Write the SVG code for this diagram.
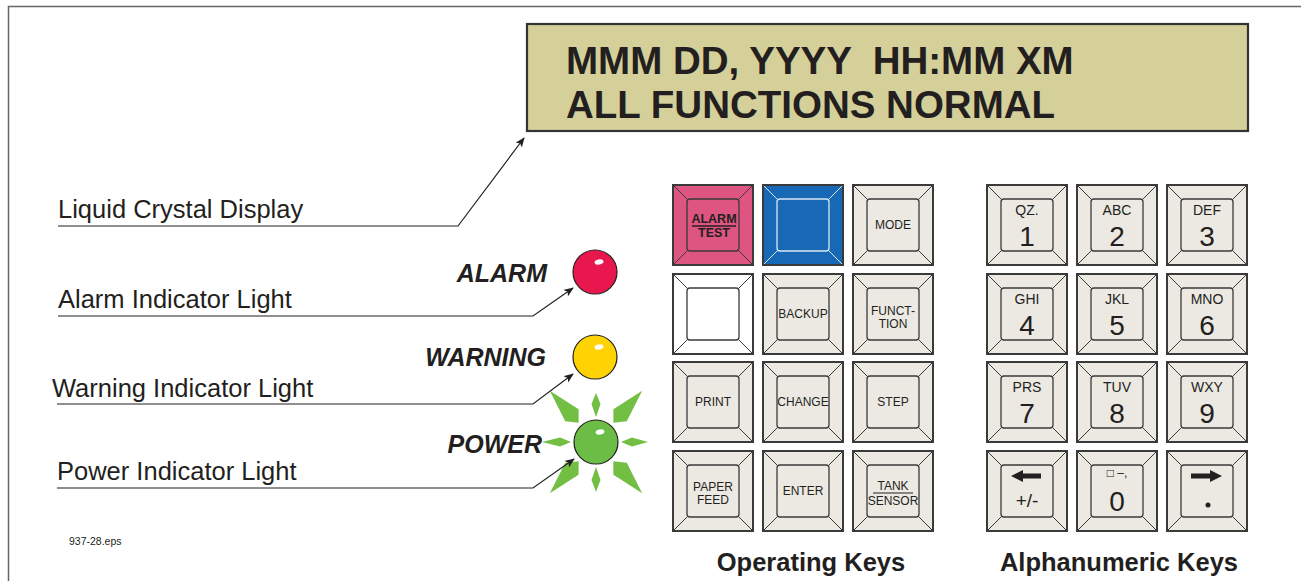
<svg xmlns="http://www.w3.org/2000/svg" xmlns:xlink="http://www.w3.org/1999/xlink" width="1301" height="581" viewBox="0 0 1301 581">
<style>
.lbl{font-family:"Liberation Sans",Arial,sans-serif;font-size:25.5px;fill:#231f20}
.bi{font-family:"Liberation Sans",Arial,sans-serif;font-size:25px;font-weight:bold;font-style:italic;fill:#231f20;text-anchor:end}
.lcdt{font-family:"Liberation Sans",Arial,sans-serif;font-size:38.5px;font-weight:bold;fill:#231f20}
.kt{font-family:"Liberation Sans",Arial,sans-serif;font-size:12px;fill:#231f20;text-anchor:middle}
.kb{font-family:"Liberation Sans",Arial,sans-serif;font-size:12.5px;font-weight:bold;fill:#231f20;text-anchor:middle}
.ks{font-family:"Liberation Sans",Arial,sans-serif;font-size:14px;fill:#231f20;text-anchor:middle}
.kd{font-family:"Liberation Sans",Arial,sans-serif;font-size:28px;fill:#231f20;text-anchor:middle}
.ttl{font-family:"Liberation Sans",Arial,sans-serif;font-size:25.5px;font-weight:bold;fill:#231f20;text-anchor:middle}
.conn{fill:none;stroke:#231f20;stroke-width:1.2}
.ray{fill:#72bf44}
.hl{fill:#ffffff}
</style>
<defs>
<marker id="ah" markerWidth="10" markerHeight="8" refX="9" refY="4" orient="auto" markerUnits="userSpaceOnUse">
<path d="M0,0 L10,4 L0,8 L2.5,4 Z" fill="#231f20"/>
</marker>
<g id="kf">
<rect x="0" y="0" width="80" height="80" stroke-width="2"/>
<rect x="14" y="14" width="52" height="52" rx="3" stroke-width="1.3"/>
<path d="M0,0 L14.5,14.5 M80,0 L65.5,14.5 M0,80 L14.5,65.5 M80,80 L65.5,65.5" stroke-width="1"/>
</g>
</defs>

<g id="frame" fill="none" stroke="#666" stroke-width="1.5">
<path d="M8.5,581 L8.5,6.5 L1301,6.5"/>
</g>

<g id="lcd">
<rect x="527" y="24" width="721" height="107" fill="#d5cf99" stroke="#333" stroke-width="2.2"/>
<text class="lcdt" x="566" y="74" xml:space="preserve">MMM DD, YYYY  HH:MM XM</text>
<text class="lcdt" x="566" y="118">ALL FUNCTIONS NORMAL</text>
</g>

<g id="label-lcd"><text class="lbl" x="58" y="218">Liquid Crystal Display</text></g>
<g id="label-alarm"><text class="lbl" x="58" y="308">Alarm Indicator Light</text></g>
<g id="label-warning"><text class="lbl" x="52" y="397">Warning Indicator Light</text></g>
<g id="label-power"><text class="lbl" x="57" y="480">Power Indicator Light</text></g>

<g id="light-alarm">
<text class="bi" x="547" y="282">ALARM</text>
<circle cx="595" cy="272" r="22" fill="#e8184f" stroke="#231f20" stroke-width="1.2"/>
<ellipse cx="599" cy="262" rx="4.5" ry="2.6" class="hl" transform="rotate(-10 599 262)"/>
</g>
<g id="light-warning">
<text class="bi" x="546" y="366">WARNING</text>
<circle cx="595" cy="357" r="22" fill="#ffd204" stroke="#231f20" stroke-width="1.2"/>
<ellipse cx="599" cy="347" rx="4.5" ry="2.6" class="hl" transform="rotate(-10 599 347)"/>
</g>
<g id="light-power">
<g transform="translate(596,442)">
<path class="ray" d="M0,-25 L4.5,-38 L0,-49 L-4.5,-38 Z"/>
<path class="ray" d="M0,25 L4.5,38 L0,50 L-4.5,38 Z"/>
<path class="ray" d="M25,0 L36,-4.5 L52,0 L36,4.5 Z"/>
<path class="ray" d="M-25,0 L-36,-4.5 L-54,0 L-36,4.5 Z"/>
<path class="ray" d="M26,0 L36,-9 L69,0 L36,9 Z" transform="rotate(-48)"/>
<path class="ray" d="M26,0 L36,-9 L69,0 L36,9 Z" transform="rotate(-132)"/>
<path class="ray" d="M26,0 L36,-9 L69,0 L36,9 Z" transform="rotate(48)"/>
<path class="ray" d="M26,0 L36,-9 L69,0 L36,9 Z" transform="rotate(132)"/>
</g>
<text class="bi" x="542" y="453">POWER</text>
<circle cx="596" cy="442" r="22" fill="#6cbd45" stroke="#231f20" stroke-width="1.2"/>
<ellipse cx="600" cy="432" rx="4.5" ry="2.6" class="hl" transform="rotate(-10 600 432)"/>
</g>

<g id="connectors">
<polyline class="conn" points="58,226 458,226 524,138" marker-end="url(#ah)"/>
<polyline class="conn" points="58,316 533,316 573,288" marker-end="url(#ah)"/>
<polyline class="conn" points="57,404 533,404 573,374" marker-end="url(#ah)"/>
<polyline class="conn" points="57,488 533,488 574,459" marker-end="url(#ah)"/>
</g>

<g id="operating-keys">
<g id="key-alarm-test">
<use xlink:href="#kf" x="673" y="185" fill="#df5581" stroke="#3a3a3a"/>
<text class="kb" x="714" y="223">ALARM</text>
<line x1="692" y1="226" x2="736" y2="226" stroke="#231f20" stroke-width="1.3"/>
<text class="kb" x="714" y="237">TEST</text>
</g>
<g id="key-blue">
<rect x="763" y="185" width="80" height="80" fill="#1769b5" stroke="#3a3a3a" stroke-width="2"/>
<rect x="777" y="199" width="52" height="52" rx="3" fill="none" stroke="#d8e6f4" stroke-width="1.3"/>
<path d="M764,186 L777.5,199.5 M842,186 L828.5,199.5 M764,264 L777.5,250.5 M842,264 L828.5,250.5" stroke="#d8e6f4" stroke-width="1"/>
</g>
<g id="key-mode"><use xlink:href="#kf" x="853" y="185" fill="#ece9e3" stroke="#3a3a3a"/><text class="kt" x="893" y="229">MODE</text></g>
<g id="key-white"><use xlink:href="#kf" x="673" y="274" fill="#ffffff" stroke="#3a3a3a"/></g>
<g id="key-backup"><use xlink:href="#kf" x="763" y="274" fill="#ece9e3" stroke="#3a3a3a"/><text class="kt" x="803" y="318">BACKUP</text></g>
<g id="key-function"><use xlink:href="#kf" x="853" y="274" fill="#ece9e3" stroke="#3a3a3a"/><text class="kt" x="893" y="315">FUNCT-</text><text class="kt" x="893" y="328">TION</text></g>
<g id="key-print"><use xlink:href="#kf" x="673" y="362" fill="#ece9e3" stroke="#3a3a3a"/><text class="kt" x="713" y="406">PRINT</text></g>
<g id="key-change"><use xlink:href="#kf" x="763" y="362" fill="#ece9e3" stroke="#3a3a3a"/><text class="kt" x="803" y="406">CHANGE</text></g>
<g id="key-step"><use xlink:href="#kf" x="853" y="362" fill="#ece9e3" stroke="#3a3a3a"/><text class="kt" x="893" y="406">STEP</text></g>
<g id="key-paper-feed"><use xlink:href="#kf" x="673" y="451" fill="#ece9e3" stroke="#3a3a3a"/><text class="kt" x="713" y="491">PAPER</text><text class="kt" x="713" y="504">FEED</text></g>
<g id="key-enter"><use xlink:href="#kf" x="763" y="451" fill="#ece9e3" stroke="#3a3a3a"/><text class="kt" x="803" y="495">ENTER</text></g>
<g id="key-tank-sensor"><use xlink:href="#kf" x="853" y="451" fill="#ece9e3" stroke="#3a3a3a"/><text class="kt" x="893" y="490">TANK</text><line x1="873" y1="493" x2="913" y2="493" stroke="#231f20" stroke-width="1"/><text class="kt" x="893" y="505">SENSOR</text></g>
</g>

<g id="alphanumeric-keys">
<g id="key-1"><use xlink:href="#kf" x="987" y="185" fill="#ece9e3" stroke="#3a3a3a"/><text class="ks" x="1027" y="215">QZ.</text><text class="kd" x="1027" y="246">1</text></g>
<g id="key-2"><use xlink:href="#kf" x="1077" y="185" fill="#ece9e3" stroke="#3a3a3a"/><text class="ks" x="1117" y="215">ABC</text><text class="kd" x="1117" y="246">2</text></g>
<g id="key-3"><use xlink:href="#kf" x="1167" y="185" fill="#ece9e3" stroke="#3a3a3a"/><text class="ks" x="1207" y="215">DEF</text><text class="kd" x="1207" y="246">3</text></g>
<g id="key-4"><use xlink:href="#kf" x="987" y="274" fill="#ece9e3" stroke="#3a3a3a"/><text class="ks" x="1027" y="304">GHI</text><text class="kd" x="1027" y="335">4</text></g>
<g id="key-5"><use xlink:href="#kf" x="1077" y="274" fill="#ece9e3" stroke="#3a3a3a"/><text class="ks" x="1117" y="304">JKL</text><text class="kd" x="1117" y="335">5</text></g>
<g id="key-6"><use xlink:href="#kf" x="1167" y="274" fill="#ece9e3" stroke="#3a3a3a"/><text class="ks" x="1207" y="304">MNO</text><text class="kd" x="1207" y="335">6</text></g>
<g id="key-7"><use xlink:href="#kf" x="987" y="362" fill="#ece9e3" stroke="#3a3a3a"/><text class="ks" x="1027" y="392">PRS</text><text class="kd" x="1027" y="423">7</text></g>
<g id="key-8"><use xlink:href="#kf" x="1077" y="362" fill="#ece9e3" stroke="#3a3a3a"/><text class="ks" x="1117" y="392">TUV</text><text class="kd" x="1117" y="423">8</text></g>
<g id="key-9"><use xlink:href="#kf" x="1167" y="362" fill="#ece9e3" stroke="#3a3a3a"/><text class="ks" x="1207" y="392">WXY</text><text class="kd" x="1207" y="423">9</text></g>
<g id="key-left"><use xlink:href="#kf" x="987" y="451" fill="#ece9e3" stroke="#3a3a3a"/>
<path d="M1011,476 L1023,470 L1023,473.5 L1041,473.5 L1041,478.5 L1023,478.5 L1023,482 Z" fill="#231f20"/>
<text class="kt" x="1027" y="507" style="font-size:19px">+/-</text></g>
<g id="key-0"><use xlink:href="#kf" x="1077" y="451" fill="#ece9e3" stroke="#3a3a3a"/>
<text class="kt" x="1117" y="477" style="font-size:12px">□ –,</text><text class="kd" x="1117" y="511">0</text></g>
<g id="key-right"><use xlink:href="#kf" x="1167" y="451" fill="#ece9e3" stroke="#3a3a3a"/>
<path d="M1222,476 L1210,470 L1210,473.5 L1191,473.5 L1191,478.5 L1210,478.5 L1210,482 Z" fill="#231f20"/>
<circle cx="1208" cy="505" r="2.5" fill="#231f20"/></g>
</g>

<g id="titles">
<text class="ttl" x="811" y="571">Operating Keys</text>
<text class="ttl" x="1119" y="571">Alphanumeric Keys</text>
<text x="69" y="545" style="font-family:'Liberation Sans',Arial,sans-serif;font-size:10.5px;fill:#231f20">937-28.eps</text>
</g>
</svg>
